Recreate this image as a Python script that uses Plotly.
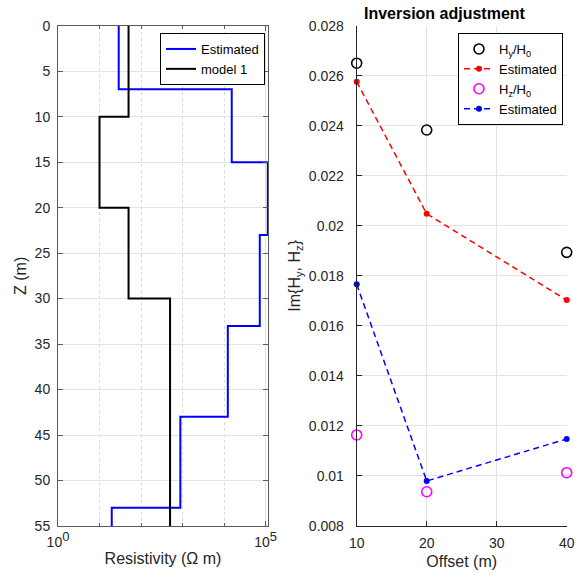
import plotly.graph_objects as go

# ---- Left panel data: layered resistivity models ----
est_top = [0, 7, 15, 23, 33, 43, 53]
est_bottom = [7, 15, 23, 33, 43, 53, 55]
est_rho = [29, 15300, 113000, 72400, 12300, 885, 19.7]

mod_top = [0, 10, 20, 30]
mod_bottom = [10, 20, 30, 55]
mod_rho = [50, 10, 50, 500]

depth_ticks = [0, 5, 10, 15, 20, 25, 30, 35, 40, 45, 50, 55]
rho_major_ticks = [1, 1e5]
rho_major_labels = ['10<sup><span style="font-size:13px">0</span></sup>',
                    '10<sup><span style="font-size:13px">5</span></sup>']
rho_minor_ticks = [10, 100, 1000, 10000]

# ---- Right panel data ----
offsets = [10, 20, 40]
hy_obs = [0.0265, 0.02383, 0.01894]
hy_est = [0.02576, 0.02048, 0.01703]
hz_obs = [0.01164, 0.00937, 0.01013]
hz_est = [0.01766, 0.0098, 0.01148]

off_ticks = [10, 20, 30, 40]
im_ticks = [0.008, 0.010, 0.012, 0.014, 0.016, 0.018, 0.020, 0.022, 0.024, 0.026, 0.028]
im_labels = ["0.008", "0.01", "0.012", "0.014", "0.016", "0.018", "0.02", "0.022", "0.024", "0.026", "0.028"]


def steps(tops, bottoms, rhos):
    xs, ys = [], []
    for t, b, r in zip(tops, bottoms, rhos):
        xs += [r, r]
        ys += [t, b]
    return xs, ys


FONT = "Liberation Sans, Arial, Helvetica, sans-serif"
W, H = 585, 573
DASH = "6px,4px"

fig = go.Figure()

ex, ey = steps(est_top, est_bottom, est_rho)
mx, my = steps(mod_top, mod_bottom, mod_rho)
fig.add_trace(go.Scatter(x=ex, y=ey, mode="lines", name="Estimated",
                         line=dict(color="#0000ff", width=2),
                         xaxis="x", yaxis="y", legend="legend"))
fig.add_trace(go.Scatter(x=mx, y=my, mode="lines", name="model 1",
                         line=dict(color="#000000", width=2),
                         xaxis="x", yaxis="y", legend="legend"))

fig.add_trace(go.Scatter(x=offsets, y=hy_obs, mode="markers", name="H<sub>y</sub>/H<sub>0</sub>",
                         marker=dict(symbol="circle-open", size=10, color="#000000", line=dict(width=1.6)),
                         xaxis="x2", yaxis="y2", legend="legend2", cliponaxis=False))
fig.add_trace(go.Scatter(x=offsets, y=hy_est, mode="lines+markers", name="Estimated",
                         line=dict(color="#ff0000", width=1.5, dash=DASH),
                         marker=dict(symbol="circle", size=6, color="#ff0000"),
                         xaxis="x2", yaxis="y2", legend="legend2", cliponaxis=False))
fig.add_trace(go.Scatter(x=offsets, y=hz_obs, mode="markers", name="H<sub>z</sub>/H<sub>0</sub>",
                         marker=dict(symbol="circle-open", size=10, color="#ff00ff", line=dict(width=1.6)),
                         xaxis="x2", yaxis="y2", legend="legend2", cliponaxis=False))
fig.add_trace(go.Scatter(x=offsets, y=hz_est, mode="lines+markers", name="Estimated",
                         line=dict(color="#0000ff", width=1.5, dash=DASH),
                         marker=dict(symbol="circle", size=6, color="#0000ff"),
                         xaxis="x2", yaxis="y2", legend="legend2", cliponaxis=False))

y_top = 1 - 25.7 / H
y_bot = 1 - 526 / H

grid = "#e3e3e3"
axcol = "#5a5a5a"
axcol2 = "#262626"

fig.update_layout(
    width=W, height=H,
    margin=dict(l=0, r=0, t=0, b=0, autoexpand=False),
    paper_bgcolor="white", plot_bgcolor="white",
    font=dict(family=FONT, size=14, color="#262626"),
    showlegend=True,
    xaxis=dict(
        domain=[58 / W, 268 / W], type="log", range=[0, 5.058],
        tickmode="array", tickvals=rho_major_ticks, ticktext=rho_major_labels,
        ticks="inside", ticklen=5, tickcolor=axcol,
        showline=True, linecolor=axcol, linewidth=1, mirror="allticks",
        showgrid=True, gridcolor=grid, gridwidth=1,
        minor=dict(tickvals=rho_minor_ticks, ticks="inside", ticklen=3, tickcolor=axcol,
                   showgrid=True, griddash="dot", gridcolor="#d9d9d9", gridwidth=1),
        zeroline=False, ticklabelstandoff=3, automargin=False,
        title=dict(text="Resistivity (Ω m)", font=dict(size=16), standoff=4),
        anchor="y",
    ),
    yaxis=dict(
        domain=[y_bot, y_top], range=[55, 0],
        tickmode="array", tickvals=depth_ticks,
        ticks="inside", ticklen=5, tickcolor=axcol,
        showline=True, linecolor=axcol, linewidth=1, mirror="allticks",
        showgrid=True, gridcolor=grid, gridwidth=1,
        zeroline=False, ticklabelstandoff=4, automargin=False,
        title=dict(text="Z (m)", font=dict(size=16), standoff=4),
        anchor="x",
    ),
    xaxis2=dict(
        domain=[356.7 / W, 566.7 / W], range=[10, 40],
        tickmode="array", tickvals=off_ticks,
        ticks="inside", ticklen=5, tickcolor=axcol2,
        showline=True, linecolor=axcol2, linewidth=1, mirror=False,
        showgrid=True, gridcolor=grid, gridwidth=1,
        zeroline=False, ticklabelstandoff=4, automargin=False,
        title=dict(text="Offset (m)", font=dict(size=16), standoff=6),
        anchor="y2",
    ),
    yaxis2=dict(
        domain=[y_bot, y_top], range=[0.008, 0.028],
        tickmode="array", tickvals=im_ticks, ticktext=im_labels,
        ticks="inside", ticklen=5, tickcolor=axcol2,
        showline=True, linecolor=axcol2, linewidth=1, mirror=False,
        showgrid=True, gridcolor=grid, gridwidth=1,
        zeroline=False, ticklabelstandoff=9, automargin=False,
        title=dict(text="Im{H<sub>y</sub>, H<sub>z</sub>}", font=dict(size=16), standoff=4),
        anchor="x2",
    ),
    legend=dict(
        x=160 / W, y=1 - 33 / H, xanchor="left", yanchor="top",
        bgcolor="white", bordercolor="#000000", borderwidth=1,
        font=dict(size=13, color="#000000"),
        tracegroupgap=0, itemwidth=30,
    ),
    legend2=dict(
        x=458 / W, y=1 - 33 / H, xanchor="left", yanchor="top",
        bgcolor="white", bordercolor="#000000", borderwidth=1,
        font=dict(size=13, color="#000000"),
        tracegroupgap=0, itemwidth=30,
    ),
    annotations=[
        dict(text="<b>Inversion adjustment</b>", x=445 / W, y=1 - 13.5 / H,
             xref="paper", yref="paper", xanchor="center", yanchor="middle",
             showarrow=False, font=dict(size=16, color="#000000")),
    ],
)

fig.write_html("out.html", config={"displayModeBar": False},
               post_script="document.body.style.margin='0px';document.body.style.overflow='hidden';")
